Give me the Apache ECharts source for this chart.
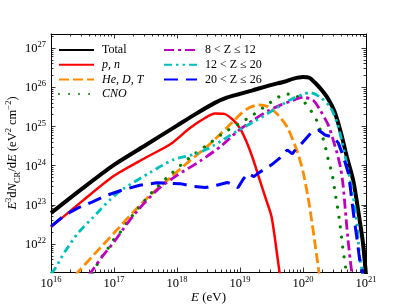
<!DOCTYPE html>
<html>
<head>
<meta charset="utf-8">
<script src="https://cdn.jsdelivr.net/npm/echarts@6/dist/echarts.min.js"></script>
<style>html,body{margin:0;padding:0;background:#fff}#c{width:407px;height:305px}</style>
</head>
<body>
<div id="c"></div>
<script>
// log10(E / eV) and log10(E^3 dN/dE / eV^2 cm^-2)
const totalE = [16.0,16.5,17.0,17.5,18.0,18.3,18.6,18.8,19.0,19.2,19.5,19.7,19.85,20.0,20.1,20.2,20.3,20.4,20.5,20.6,20.7,20.8,20.9,20.95,21.0];
const totalF = [22.79,23.42,24.02,24.52,25.02,25.32,25.6,25.74,25.83,25.92,26.06,26.14,26.22,26.26,26.24,26.1,25.92,25.7,25.38,24.85,24.2,23.6,22.6,22.05,21.2];
const pnE = [16.0,16.5,17.0,17.5,17.9,18.2,18.45,18.6,18.75,18.9,19.0,19.1,19.2,19.3,19.4,19.5,19.6,19.65];
const pnF = [22.43,23.1,23.74,24.2,24.55,24.95,25.22,25.33,25.32,25.15,24.95,24.62,24.2,23.7,23.2,22.7,21.6,21.0];
const heE = [16.38,16.7,17.0,17.38,17.6,17.9,18.2,18.5,18.8,19.0,19.15,19.3,19.45,19.6,19.75,19.9,20.0,20.1,20.2,20.26];
const heF = [21.2,21.76,22.28,22.94,23.28,23.7,24.12,24.52,24.98,25.3,25.48,25.55,25.5,25.3,24.98,24.4,23.85,23.0,21.9,21.2];
const cnoE = [16.66,16.78,16.89,16.98,17.1,17.2,17.3,17.41,17.62,17.9,18.2,18.5,18.71,19.0,19.16,19.43,19.57,19.71,19.89,20.02,20.13,20.22,20.33,20.37,20.41,20.46,20.51,20.54,20.59,20.63,20.68,20.7];
const cnoF = [21.25,21.62,21.85,22.08,22.3,22.54,22.74,22.96,23.35,23.78,24.2,24.55,24.8,25.09,25.24,25.55,25.7,25.83,25.78,25.62,25.39,25.14,24.63,24.37,24.09,23.81,23.3,23.02,22.46,21.92,21.36,21.1];
const mgE = [16.6,16.8,17.0,17.2,17.4,17.7,18.0,18.37,18.7,18.95,19.2,19.45,19.65,19.8,20.0,20.16,20.27,20.4,20.48,20.54,20.6,20.64,20.67,20.71,20.75,20.78];
const mgF = [21.2,21.65,22.05,22.5,22.9,23.4,23.75,24.12,24.5,24.86,25.15,25.4,25.55,25.64,25.74,25.67,25.42,25.04,24.65,24.32,23.92,23.45,22.9,22.18,21.59,21.2];
const siE = [16.0,16.06,16.22,16.43,16.65,16.95,17.14,17.57,17.94,18.3,18.57,18.95,19.2,19.45,19.79,20.0,20.11,20.27,20.43,20.54,20.62,20.7,20.79,20.86,20.9,20.94,20.97];
const siF = [21.25,21.36,21.8,22.28,22.65,23.15,23.4,23.82,24.15,24.3,24.5,24.88,25.1,25.34,25.67,25.82,25.86,25.75,25.5,25.1,24.6,24.0,23.3,22.43,21.67,21.3,21.0];
const feE = [16.0,16.22,16.43,16.65,16.9,17.14,17.41,17.68,18.05,18.25,18.45,18.63,18.8,18.9,18.97,19.05,19.13,19.22,19.3,19.4,19.5,19.63,19.75,19.83,19.9,20.0,20.14,20.25,20.35,20.48,20.56,20.62,20.67,20.72,20.75,20.8,20.86,20.9,20.94,20.97];
const feF = [22.45,22.74,22.92,23.07,23.25,23.38,23.5,23.56,23.54,23.47,23.44,23.5,23.57,23.5,23.44,23.65,23.8,23.72,23.82,23.92,24.02,24.19,24.4,24.3,24.45,24.6,24.86,24.9,24.78,24.73,24.58,24.32,24.07,23.8,23.45,22.79,22.1,21.59,21.3,21.0];
const xMajor = [16,17,18,19,20,21];
const yMajor = [22,23,24,25,26,27];
const names = ['Total','p, n','He, D, T','CNO','8 < Z ≤ 12','12 < Z ≤ 20','20 < Z ≤ 26'];

const xMin = 16, xMax = 21, yMin = 21.286, yMax = 27.357;
function minors(a, b, lo, hi) {
  const out = [];
  for (let d = a; d <= b; d++) for (let k = 2; k <= 9; k++) {
    const v = d + Math.log10(k);
    if (v > lo && v < hi) out.push(v);
  }
  return out;
}
const xMinor = minors(15, 21, xMin, xMax);
const yMinor = minors(21, 27, yMin, yMax);
const pair = (a, b) => a.map((v, i) => [v, b[i]]);

const serif = 'Liberation Serif';
const tickRich = {
  b: {fontFamily: serif, fontSize: 12.5, lineHeight: 15, verticalAlign: 'bottom', color: '#000'},
  s: {fontFamily: serif, fontSize: 8.5, lineHeight: 15, verticalAlign: 'top', color: '#000'}
};
const fmt = v => '{b|10}{s|' + Math.round(v) + '}';

function xAx(pos, vals, len, labels, line) {
  return {type: 'value', min: xMin, max: xMax, position: pos, gridIndex: 0,
    axisLine: {show: line, onZero: false, lineStyle: {color: '#000', width: 1}},
    axisTick: {show: true, inside: true, length: len, customValues: vals, lineStyle: {color: '#000', width: 0.8}},
    axisLabel: labels ? {show: true, customValues: vals, formatter: fmt, rich: tickRich, margin: 3} : {show: false},
    splitLine: {show: false}};
}
function yAx(pos, vals, len, labels, line) {
  return {type: 'value', min: yMin, max: yMax, position: pos, gridIndex: 0,
    axisLine: {show: line, onZero: false, lineStyle: {color: '#000', width: 1}},
    axisTick: {show: true, inside: true, length: len, customValues: vals, lineStyle: {color: '#000', width: 0.8}},
    axisLabel: labels ? {show: true, customValues: vals, formatter: fmt, rich: tickRich, margin: 5} : {show: false},
    splitLine: {show: false}};
}
const xAxes = [xAx('bottom', xMajor, 4.5, true, true), xAx('bottom', xMinor, 2.5, false, false),
               xAx('top', xMajor, 4.5, false, true), xAx('top', xMinor, 2.5, false, false)];
const yAxes = [yAx('left', yMajor, 4.5, true, true), yAx('left', yMinor, 2.5, false, false),
               yAx('right', yMajor, 4.5, false, true), yAx('right', yMinor, 2.5, false, false)];
xAxes[0].name = '{i|E} {r|(eV)}';
xAxes[0].nameLocation = 'middle';
xAxes[0].nameGap = 19;
xAxes[0].nameMoveOverlap = false;
xAxes[0].nameTextStyle = {rich: {
  i: {fontFamily: serif, fontStyle: 'italic', fontSize: 13, color: '#000'},
  r: {fontFamily: serif, fontSize: 13, color: '#000'}}};
yAxes[0].name = '{i|E}{sup|3}{r|d}{i|N}{sub|CR}{r|/d}{i|E} {r|(eV}{sup|2}{r| cm}{sup|−2}{r|)}';
yAxes[0].nameLocation = 'middle';
yAxes[0].nameGap = 29;
yAxes[0].nameRotate = 90;
yAxes[0].nameMoveOverlap = false;
yAxes[0].nameTextStyle = {rich: {
  i: {fontFamily: serif, fontStyle: 'italic', fontSize: 12.5, lineHeight: 18, color: '#000'},
  r: {fontFamily: serif, fontSize: 12.5, lineHeight: 18, color: '#000'},
  sup: {fontFamily: serif, fontSize: 8.5, lineHeight: 18, verticalAlign: 'top', color: '#000'},
  sub: {fontFamily: serif, fontSize: 8.5, lineHeight: 18, verticalAlign: 'bottom', color: '#000'}}};

function ser(name, d, color, width, type, extra) {
  return Object.assign({name, type: 'line', data: d, showSymbol: false, symbol: 'none', smooth: 0.25,
    xAxisIndex: 0, yAxisIndex: 0, clip: true, animation: false,
    lineStyle: {color, width, type}, itemStyle: {color}}, extra || {});
}
const series = [
  ser(names[0], pair(totalE, totalF), '#000000', 4, 'solid'),
  ser(names[1], pair(pnE, pnF), '#ff0000', 2.5, 'solid'),
  ser(names[2], pair(heE, heF), '#ff8c00', 2.8, [10, 4]),
  ser(names[3], pair(cnoE, cnoF), '#008000', 3, [0.01, 10], {lineStyle: {color: '#008000', width: 3.2, type: [0.01, 10], cap: 'round'}}),
  ser(names[4], pair(mgE, mgF), '#bf00bf', 2.8, [10, 4, 3, 4]),
  ser(names[5], pair(siE, siF), '#00bfbf', 2.8, [8, 4, 2.5, 4, 2.5, 4]),
  ser(names[6], pair(feE, feF), '#0000ff', 3, [14, 8], {smooth: false}),
];

const legTxt = {fontFamily: serif, fontSize: 12, color: '#000', padding: [0, 0, 0, 3]};
const legTxtI = Object.assign({}, legTxt, {fontStyle: 'italic'});
const chart = echarts.init(document.getElementById('c'), null, {renderer: 'canvas'});
chart.setOption({
  animation: false,
  grid: {left: 51, right: 41, top: 34, bottom: 33, containLabel: false, outerBoundsMode: 'none'},
  xAxis: xAxes,
  yAxis: yAxes,
  legend: [
    {orient: 'vertical', left: 58, top: 44, padding: 0, itemWidth: 35, itemHeight: 10, itemGap: 2.7,
     itemStyle: {opacity: 0},
     data: [{name: names[0], textStyle: legTxt}, {name: names[1], textStyle: legTxtI},
            {name: names[2], textStyle: legTxtI}, {name: names[3], textStyle: legTxtI}],
     textStyle: legTxt, selectedMode: false},
    {orient: 'vertical', left: 163, top: 44, padding: 0, itemWidth: 33, itemHeight: 10, itemGap: 2.7,
     itemStyle: {opacity: 0},
     data: [{name: names[4]}, {name: names[5]}, {name: names[6]}],
     textStyle: legTxt, selectedMode: false}
  ],
  series
});
</script>
</body>
</html>
